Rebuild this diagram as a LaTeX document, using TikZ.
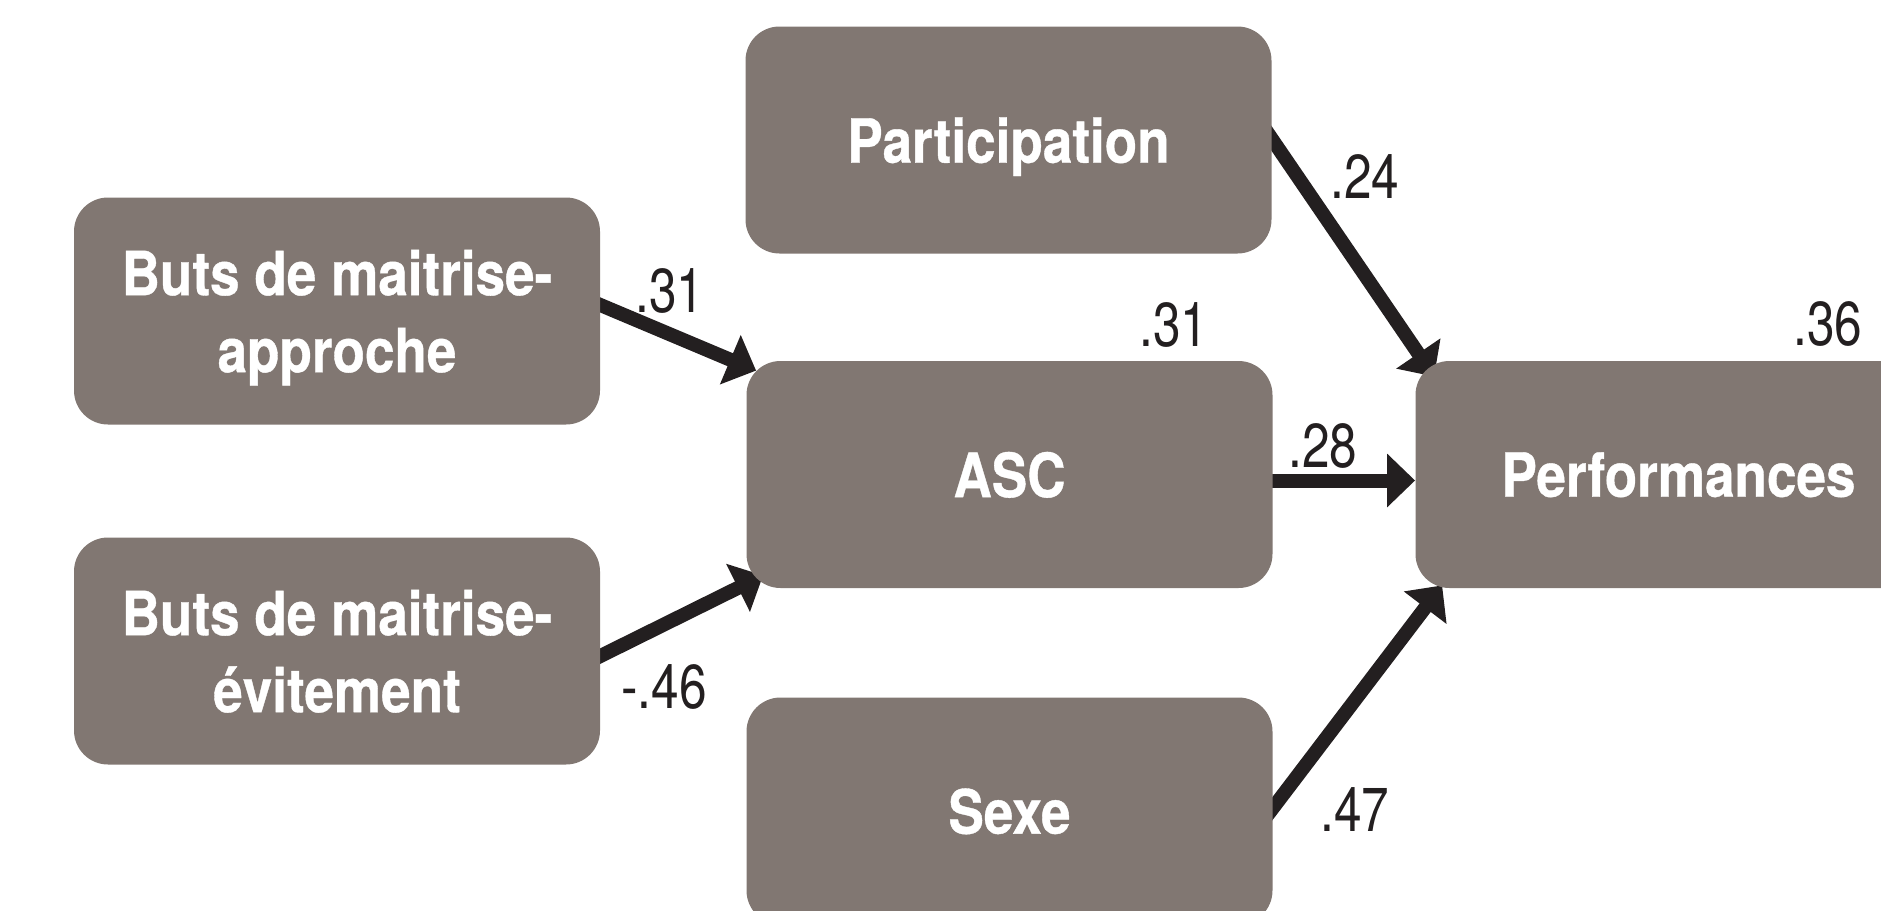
\documentclass[tikz,border=0pt]{standalone}
\usepackage{fontspec}
\newfontfamily\boxfont{TeX Gyre Heros}[FakeStretch=0.87,BoldFeatures={FakeBold=0.6}]
\newfontfamily\labfont{TeX Gyre Heros}[FakeStretch=0.8]
\usetikzlibrary{arrows.meta,calc,backgrounds}
\definecolor{boxgray}{RGB}{129,119,114}
\definecolor{ink}{RGB}{35,31,32}
\begin{document}
\begin{tikzpicture}[x=0.5pt,y=-0.5pt,
  box/.style={draw=none, fill=boxgray, rounded corners=17pt,
    minimum width=263pt, minimum height=113.5pt, inner sep=0pt,
    align=center, text=white, text depth=0pt,
    font=\boxfont\bfseries\fontsize{30.5}{38.5}\selectfont},
  lab/.style={inner sep=0pt, text=ink, font=\labfont\fontsize{31}{33}\selectfont},
  link/.style={draw=ink, fill=ink, line width=7pt,
    -{Triangle[length=14pt,width=26pt]}}
]
\useasboundingbox (0,0) rectangle (1881,911);
\clip (0,0) rectangle (1881,911);

\node[box] (P)    at (1008.5,140)  {Participation};
\node[box] (A)    at (337,311)     {Buts de maitrise-\\approche};
\node[box] (E)    at (337,651)     {Buts de maitrise-\\évitement};
\node[box] (ASC)  at (1009.5,474.5) {ASC};
\node[box] (S)    at (1009.5,811)  {Sexe};
\node[box] (Perf) at (1678.5,474.5) {Performances};

\coordinate (a1s) at ($(A.east)+(0,-6)$);
\coordinate (a1e) at ($(ASC.north west)+(10,10)$);
\coordinate (a2s) at ($(E.east)+(0,5)$);
\coordinate (a2e) at ($(ASC.south west)+(17,-13)$);
\coordinate (a3s) at ($(P.east)+(0,-1)$);
\coordinate (a3e) at ($(Perf.north west)+(19,16)$);
\coordinate (a4s) at ($(ASC.east)+(0,6)$);
\coordinate (a4e) at ($(Perf.west)+(0,6)$);
\coordinate (a5s) at ($(S.east)+(0,-3)$);
\coordinate (a5e) at ($(Perf.south west)+(27,-3)$);

\begin{scope}[on background layer]
  \draw[link] ($(a1s)!-6pt!(a1e)$) -- (a1e);
  \draw[link] ($(a2s)!-6pt!(a2e)$) -- (a2e);
  \draw[link] ($(a3s)!-6pt!(a3e)$) -- (a3e);
  \draw[link] ($(a4s)!-6pt!(a4e)$) -- (a4e);
  \draw[link] ($(a5s)!-6pt!(a5e)$) -- (a5e);
\end{scope}

\node[lab] (l1) at (670,291)  {.31};
\node[lab] (l2) at (664,687)  {-.46};
\node[lab] (l3) at (1174,325) {.31};
\node[lab] (l4) at (1365,177) {.24};
\node[lab] (l5) at (1323,446) {.28};
\node[lab] (l6) at (1355,810) {.47};
\node[lab] (l7) at (1828,324) {.36};
\end{tikzpicture}
\end{document}
